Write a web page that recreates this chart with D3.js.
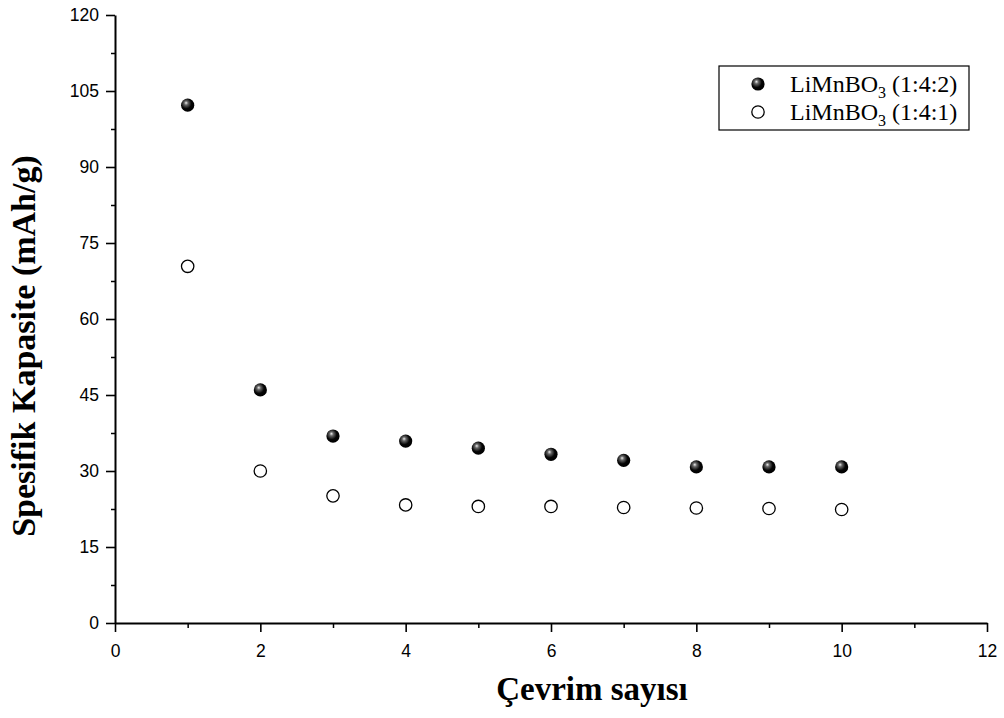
<!DOCTYPE html>
<html>
<head>
<meta charset="utf-8">
<script src="https://cdn.jsdelivr.net/npm/d3@7"></script>
<style>
  body { margin: 0; background: #fff; }
</style>
</head>
<body>
<div id="chart"></div>
<script>
// cycle numbers and capacities
const cycles = [1, 2, 3, 4, 5, 6, 7, 8, 9, 10];
const cap142 = [102.2, 46.0, 36.9, 35.9, 34.5, 33.3, 32.1, 30.8, 30.8, 30.8];
const cap141 = [70.4, 30.0, 25.1, 23.3, 23.0, 23.0, 22.8, 22.7, 22.6, 22.4];
const xTicks = [0, 2, 4, 6, 8, 10, 12];
const yTicks = [0, 15, 30, 45, 60, 75, 90, 105, 120];

const W = 1004, H = 718;
const margin = {top: 15, right: 17, bottom: 95, left: 115};
const width = W - margin.left - margin.right;
const height = H - margin.top - margin.bottom;

const serif = "'Liberation Serif', 'Times New Roman', serif";
const sans = "'Liberation Sans', Arial, sans-serif";

const svg = d3.select("#chart").append("svg")
    .attr("width", W)
    .attr("height", H);

// sphere look for the filled markers
const grad = svg.append("defs").append("radialGradient")
    .attr("id", "ball")
    .attr("cx", "40%").attr("cy", "40%").attr("r", "60%")
    .attr("fx", "38%").attr("fy", "32%");
grad.append("stop").attr("offset", "0%").attr("stop-color", "#ededed");
grad.append("stop").attr("offset", "25%").attr("stop-color", "#666");
grad.append("stop").attr("offset", "65%").attr("stop-color", "#050505");
grad.append("stop").attr("offset", "100%").attr("stop-color", "#000");

const g = svg.append("g")
    .attr("transform", "translate(" + margin.left + "," + margin.top + ")");

const x = d3.scaleLinear().domain([0, 12]).range([0, width]);
const y = d3.scaleLinear().domain([0, 120]).range([height, 0]);

// minor ticks
g.append("g")
    .attr("transform", "translate(0," + height + ")")
    .call(d3.axisBottom(x).tickValues(d3.range(1, 12, 2)).tickSize(5).tickFormat(""))
    .call(a => a.select(".domain").remove())
    .selectAll("line").attr("stroke-width", 1.5);
g.append("g")
    .call(d3.axisLeft(y).tickValues(d3.range(7.5, 120, 15)).tickSize(4).tickFormat(""))
    .call(a => a.select(".domain").remove())
    .selectAll("line").attr("stroke-width", 1.5);

const xAxis = g.append("g")
    .attr("transform", "translate(0," + height + ")")
    .call(d3.axisBottom(x).tickValues(xTicks).tickSize(9).tickSizeOuter(0).tickPadding(13));
const yAxis = g.append("g")
    .call(d3.axisLeft(y).tickValues(yTicks).tickSize(9).tickSizeOuter(0).tickPadding(7));
[xAxis, yAxis].forEach(a => {
    a.select(".domain").attr("stroke-width", 2);
    a.selectAll(".tick line").attr("stroke-width", 1.6);
    a.selectAll(".tick text")
        .attr("fill", "#000")
        .style("font-family", sans)
        .style("font-size", "17.5px");
});

// axis titles
svg.append("text")
    .attr("x", 592)
    .attr("y", 700)
    .attr("text-anchor", "middle")
    .style("font-family", serif)
    .style("font-weight", "bold")
    .style("font-size", "33px")
    .text("Çevrim sayısı");
svg.append("text")
    .attr("transform", "translate(35,346) rotate(-90)")
    .attr("text-anchor", "middle")
    .style("font-family", serif)
    .style("font-weight", "bold")
    .style("font-size", "34px")
    .text("Spesifik Kapasite (mAh/g)");

// data points
g.selectAll(".open")
    .data(cycles)
    .enter().append("circle")
    .attr("class", "open")
    .attr("cx", d => x(d))
    .attr("cy", (d, i) => y(cap141[i]))
    .attr("r", 6.2)
    .attr("fill", "#fff")
    .attr("stroke", "#000")
    .attr("stroke-width", 1.3);

g.selectAll(".filled")
    .data(cycles)
    .enter().append("circle")
    .attr("class", "filled")
    .attr("cx", d => x(d))
    .attr("cy", (d, i) => y(cap142[i]))
    .attr("r", 6.6)
    .attr("fill", "url(#ball)");

// legend
const leg = svg.append("g").attr("transform", "translate(719,66)");
leg.append("rect")
    .attr("width", 250).attr("height", 64)
    .attr("fill", "#fff").attr("stroke", "#000").attr("stroke-width", 1.2);
const legItems = [
    {label: "(1:4:2)", filled: true},
    {label: "(1:4:1)", filled: false}
];
legItems.forEach((it, i) => {
    const row = leg.append("g").attr("transform", "translate(0," + (18 + i * 28) + ")");
    if (it.filled) {
        row.append("circle").attr("cx", 39).attr("cy", 0).attr("r", 6.6).attr("fill", "url(#ball)");
    } else {
        row.append("circle").attr("cx", 39).attr("cy", 0).attr("r", 6.2)
            .attr("fill", "#fff").attr("stroke", "#000").attr("stroke-width", 1.3);
    }
    const t = row.append("text")
        .attr("x", 71).attr("y", 8)
        .style("font-family", serif)
        .style("font-size", "24px");
    t.append("tspan").text("LiMnBO");
    t.append("tspan").attr("dy", 6).style("font-size", "16px").text("3");
    t.append("tspan").attr("dy", -6).text(" " + it.label);
});
</script>
</body>
</html>
